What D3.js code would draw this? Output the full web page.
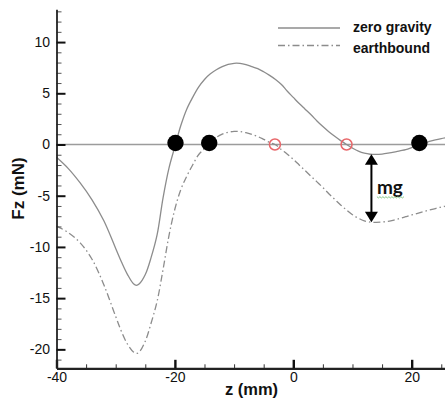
<!DOCTYPE html>
<html>
<head>
<meta charset="utf-8">
<script src="https://cdn.jsdelivr.net/npm/d3@7"></script>
<style>
  html, body { margin: 0; padding: 0; background: #fff; }
  svg { display: block; }
  .tick text { font-family: "Liberation Sans", Arial, sans-serif; font-size: 14px; fill: #111; }
</style>
</head>
<body>
<svg id="chart" width="445" height="403"></svg>
<script>
// Axial force Fz versus position z
const zPositions = [-40, -38, -36, -34, -32, -30, -29, -28, -27, -26.5,
  -26, -25, -24, -23, -22, -21, -20, -19, -18, -17, -16, -15, -14, -13, -12, -11,
  -10, -9, -8, -7, -6, -5, -4, -3, -2, -1, 0, 1, 2, 3, 4, 5, 6, 7, 8, 9,
  10, 11, 12, 13, 14, 15, 16, 17, 18, 19, 20, 21, 22, 23, 24, 25, 26];

const zeroGravity = [-1.25, -2.35, -3.75, -5.4, -7.45, -10.15, -11.5, -12.7, -13.6, -13.75,
  -13.6, -12.7, -11.0, -8.8, -5.2, -2.3, -0.2, 1.85, 3.45, 4.6, 5.6, 6.35, 6.9, 7.3, 7.6, 7.82,
  7.93, 7.92, 7.8, 7.6, 7.4, 7.1, 6.75, 6.35, 5.85, 5.2, 4.6, 4.0, 3.45, 2.9, 2.3, 1.75, 1.25, 0.8, 0.38, 0.0,
  -0.35, -0.65, -0.85, -0.95, -0.97, -0.93, -0.85, -0.75, -0.62, -0.5, -0.3, -0.08, 0.13, 0.31, 0.46, 0.58, 0.68];

const earthbound = [-7.97, -8.6, -9.6, -11.2, -13.7, -16.8, -18.3, -19.5, -20.25, -20.4,
  -20.25, -19.2, -17.4, -15.3, -12.2, -8.9, -6.3, -4.4, -3.1, -2.0, -1.0, -0.4, 0.2, 0.7, 1.02, 1.2,
  1.28, 1.27, 1.15, 0.98, 0.78, 0.5, 0.2, -0.03, -0.5, -0.95, -1.45, -2.0, -2.55, -3.1, -3.65, -4.2, -4.8, -5.35, -5.9, -6.4,
  -6.85, -7.2, -7.45, -7.58, -7.6, -7.57, -7.5, -7.38, -7.22, -7.05, -6.88, -6.72, -6.56, -6.4, -6.25, -6.1, -6.0];

// Equilibrium points on Fz = 0
const stablePoints = [-19.9, -14.2, 21.3];
const unstablePoints = [-3.1, 9.0];

// Position of the gravity offset arrow
const arrowZ = 13.2;

const xMajorTicks = [-40, -20, 0, 20];
const xMinorTicks = [-35, -30, -25, -15, -10, -5, 5, 10, 15, 25];
const yMajorTicks = [-20, -15, -10, -5, 0, 5, 10];
const yMinorTicks = d3.range(-21, 14).filter(v => v % 5 !== 0);

const legendLabels = ["zero gravity", "earthbound"];

const svg = d3.select("#chart");
const x = d3.scaleLinear().domain([-40, 25.63]).range([56.5, 445]);
const y = d3.scaleLinear().domain([-21.85, 13.2]).range([368.3, 9.3]);

const CURVE = "#8c8c8c";
const DASH = "7,3,1.5,3";

// horizontal reference at Fz = 0
svg.append("line")
  .attr("x1", x(-40)).attr("x2", 445)
  .attr("y1", y(0)).attr("y2", y(0))
  .attr("stroke", "#9c9c9c").attr("stroke-width", 1.6);

const line = d3.line()
  .x((d, i) => x(zPositions[i]))
  .y(d => y(d))
  .curve(d3.curveCatmullRom.alpha(0.5));

svg.append("path").datum(zeroGravity)
  .attr("d", line).attr("fill", "none")
  .attr("stroke", CURVE).attr("stroke-width", 1.3);

svg.append("path").datum(earthbound)
  .attr("d", line).attr("fill", "none")
  .attr("stroke", CURVE).attr("stroke-width", 1.3)
  .attr("stroke-dasharray", DASH);

// axes
const fmt = d => String(d);

const xAxisG = svg.append("g").attr("transform", `translate(0,${y(-21.85)})`);
xAxisG.append("g")
  .call(d3.axisBottom(x).tickValues(xMinorTicks).tickSize(-4).tickSizeOuter(0).tickFormat(""))
  .call(g => g.select(".domain").remove())
  .call(g => g.selectAll(".tick line").attr("stroke", "#333").attr("stroke-width", 1));
xAxisG.append("g")
  .call(d3.axisBottom(x).tickValues(xMajorTicks).tickSize(-8.5).tickSizeOuter(0).tickPadding(3.5).tickFormat(fmt))
  .call(g => g.select(".domain").attr("stroke", "#222").attr("stroke-width", 2.2))
  .call(g => g.selectAll(".tick line").attr("stroke", "#111").attr("stroke-width", 2.4));

const yAxisG = svg.append("g").attr("transform", `translate(${x(-40)},0)`);
yAxisG.append("g")
  .call(d3.axisLeft(y).tickValues(yMinorTicks).tickSize(-5).tickSizeOuter(0).tickFormat(""))
  .call(g => g.select(".domain").remove())
  .call(g => g.selectAll(".tick line").attr("stroke", "#555").attr("stroke-width", 1));
yAxisG.append("g")
  .call(d3.axisLeft(y).tickValues(yMajorTicks).tickSize(-9).tickSizeOuter(0).tickPadding(6.5).tickFormat(fmt))
  .call(g => g.select(".domain").attr("stroke", "#222").attr("stroke-width", 1.8))
  .call(g => g.selectAll(".tick line").attr("stroke", "#111").attr("stroke-width", 2));

svg.selectAll(".domain").attr("fill", "none");

// axis titles
svg.append("text")
  .attr("x", 251.5).attr("y", 395)
  .attr("text-anchor", "middle")
  .attr("font-family", "Liberation Sans, Arial, sans-serif")
  .attr("font-weight", "bold").attr("font-size", 16.5).attr("fill", "#111")
  .text("z (mm)");

svg.append("text")
  .attr("transform", "translate(23.5,188.5) rotate(-90)")
  .attr("text-anchor", "middle")
  .attr("font-family", "Liberation Sans, Arial, sans-serif")
  .attr("font-weight", "bold").attr("font-size", 17).attr("fill", "#111")
  .text("Fz (mN)");

// equilibrium markers
svg.selectAll("circle.stable").data(stablePoints).join("circle")
  .attr("class", "stable")
  .attr("cx", d => x(d)).attr("cy", y(0) - 1.5).attr("r", 8.2)
  .attr("fill", "#000");

svg.selectAll("circle.unstable").data(unstablePoints).join("circle")
  .attr("class", "unstable")
  .attr("cx", d => x(d)).attr("cy", y(0)).attr("r", 5.5)
  .attr("fill", "none").attr("stroke", "#e8676a").attr("stroke-width", 1.5);

// gravity offset arrow between the two curves
function valueAt(series, z) {
  const i = d3.bisectLeft(zPositions, z);
  const t = (z - zPositions[i - 1]) / (zPositions[i] - zPositions[i - 1]);
  return series[i - 1] + t * (series[i] - series[i - 1]);
}
const ax = x(arrowZ);
const yTop = y(valueAt(zeroGravity, arrowZ));
const yBot = y(valueAt(earthbound, arrowZ));
const headH = 10.5, headW = 6.5;
svg.append("line")
  .attr("x1", ax).attr("x2", ax)
  .attr("y1", yTop + headH - 1).attr("y2", yBot - headH + 1)
  .attr("stroke", "#000").attr("stroke-width", 2);
svg.append("path")
  .attr("d", `M${ax},${yTop} L${ax - headW},${yTop + headH} L${ax + headW},${yTop + headH} Z`)
  .attr("fill", "#000");
svg.append("path")
  .attr("d", `M${ax},${yBot} L${ax - headW},${yBot - headH} L${ax + headW},${yBot - headH} Z`)
  .attr("fill", "#000");

const mgText = svg.append("text")
  .attr("x", ax + 5.5).attr("y", (yTop + yBot) / 2 + 6)
  .attr("font-family", "Lato, 'Open Sans', sans-serif")
  .attr("font-weight", "bold").attr("font-size", 19).attr("fill", "#111")
  .text("mg");

// wavy underline beneath the label
{
  const bb = mgText.node().getBBox();
  const uy = (yTop + yBot) / 2 + 8.5;
  let d = `M${bb.x},${uy}`;
  for (let px = bb.x, k = 0; px < bb.x + bb.width; px += 1.5, k++) {
    d += ` L${px + 1.5},${uy + (k % 2 ? 0 : 1.2)}`;
  }
  svg.append("path").attr("d", d).attr("fill", "none")
    .attr("stroke", "#7cbf7c").attr("stroke-width", 0.9);
}

// legend
const legend = svg.append("g");
const legendRows = [28, 45.5];
const legendBase = [31.5, 52.5];
legendLabels.forEach((label, i) => {
  legend.append("line")
    .attr("x1", 278).attr("x2", 340)
    .attr("y1", legendRows[i]).attr("y2", legendRows[i])
    .attr("stroke", CURVE).attr("stroke-width", 1.3)
    .attr("stroke-dasharray", i === 1 ? DASH : null);
  legend.append("text")
    .attr("x", 353).attr("y", legendBase[i])
    .attr("font-family", "Liberation Sans, Arial, sans-serif")
    .attr("font-weight", "bold").attr("font-size", 14).attr("fill", "#111")
    .text(label);
});
</script>
</body>
</html>
